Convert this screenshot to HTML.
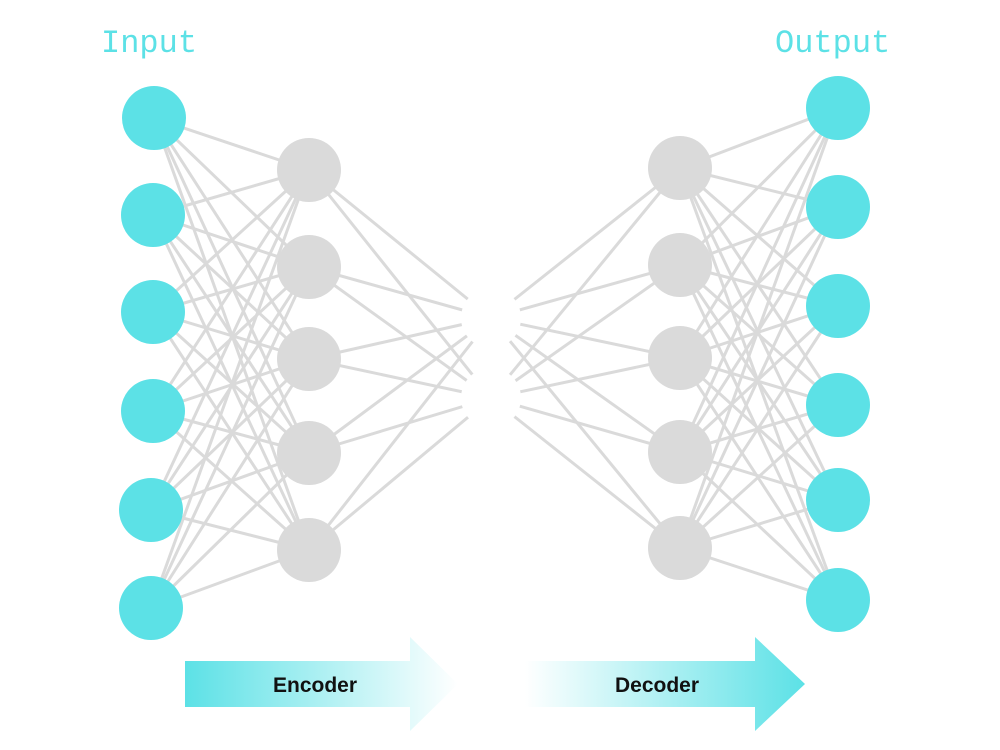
<!DOCTYPE html>
<html><head><meta charset="utf-8"><style>
html,body{margin:0;padding:0;background:#fff;}
svg{display:block;}
</style></head><body>
<svg width="1000" height="750" viewBox="0 0 1000 750" xmlns="http://www.w3.org/2000/svg">
<defs>
<linearGradient id="enc" x1="185" y1="0" x2="458" y2="0" gradientUnits="userSpaceOnUse">
<stop offset="0" stop-color="#5ce1e6"/><stop offset="1" stop-color="#ffffff"/></linearGradient>
<linearGradient id="dec" x1="525" y1="0" x2="805" y2="0" gradientUnits="userSpaceOnUse">
<stop offset="0" stop-color="#ffffff"/><stop offset="1" stop-color="#5ce1e6"/></linearGradient>
</defs>
<g stroke="#dadada" stroke-width="3">
<!-- input -> hidden enc -->
<g id="l1"></g>
</g>
<script>
(function(){
var NS="http://www.w3.org/2000/svg";
var g=document.getElementById("l1");
function L(a,b){var l=document.createElementNS(NS,"line");l.setAttribute("x1",a[0]);l.setAttribute("y1",a[1]);l.setAttribute("x2",b[0]);l.setAttribute("y2",b[1]);g.appendChild(l);}
var inp=[[154,118],[153,215],[153,312],[153,411],[151,510],[151,608]];
var h1=[[309,170],[309,267],[309,359],[309,453],[309,550]];
var bn1=[[491,318],[491,398]];
var bn2=[[491,318],[491,398]];
var h2=[[680,168],[680,265],[680,358],[680,452],[680,548]];
var out=[[838,108],[838,207],[838,306],[838,405],[838,500],[838,600]];
inp.forEach(function(a){h1.forEach(function(b){L(a,b);});});
h1.forEach(function(a){bn1.forEach(function(b){L(a,b);});});
bn2.forEach(function(a){h2.forEach(function(b){L(a,b);});});
h2.forEach(function(a){out.forEach(function(b){L(a,b);});});
})();
</script>
<g fill="#ffffff">
<circle cx="491" cy="318" r="30"/><circle cx="491" cy="398" r="30"/>
</g>
<g fill="#5ce1e6">
<circle cx="154" cy="118" r="32"/><circle cx="153" cy="215" r="32"/><circle cx="153" cy="312" r="32"/>
<circle cx="153" cy="411" r="32"/><circle cx="151" cy="510" r="32"/><circle cx="151" cy="608" r="32"/>
<circle cx="838" cy="108" r="32"/><circle cx="838" cy="207" r="32"/><circle cx="838" cy="306" r="32"/>
<circle cx="838" cy="405" r="32"/><circle cx="838" cy="500" r="32"/><circle cx="838" cy="600" r="32"/>
</g>
<g fill="#dadada">
<circle cx="309" cy="170" r="32"/><circle cx="309" cy="267" r="32"/><circle cx="309" cy="359" r="32"/>
<circle cx="309" cy="453" r="32"/><circle cx="309" cy="550" r="32"/>
<circle cx="680" cy="168" r="32"/><circle cx="680" cy="265" r="32"/><circle cx="680" cy="358" r="32"/>
<circle cx="680" cy="452" r="32"/><circle cx="680" cy="548" r="32"/>
</g>
<polygon points="185,661 410,661 410,637 458,684 410,731 410,707 185,707" fill="url(#enc)"/>
<polygon points="525,661 755,661 755,637 805,684 755,731 755,707 525,707" fill="url(#dec)"/>
<g font-family="Liberation Mono, monospace" fill="#5ce1e6" font-size="32">
<text x="101" y="52">Input</text>
<text x="775" y="52">Output</text>
</g>
<g font-family="Liberation Sans, sans-serif" font-weight="bold" fill="#111" font-size="21">
<text x="315" y="692" text-anchor="middle">Encoder</text>
<text x="657" y="692" text-anchor="middle">Decoder</text>
</g>
</svg>
</body></html>
